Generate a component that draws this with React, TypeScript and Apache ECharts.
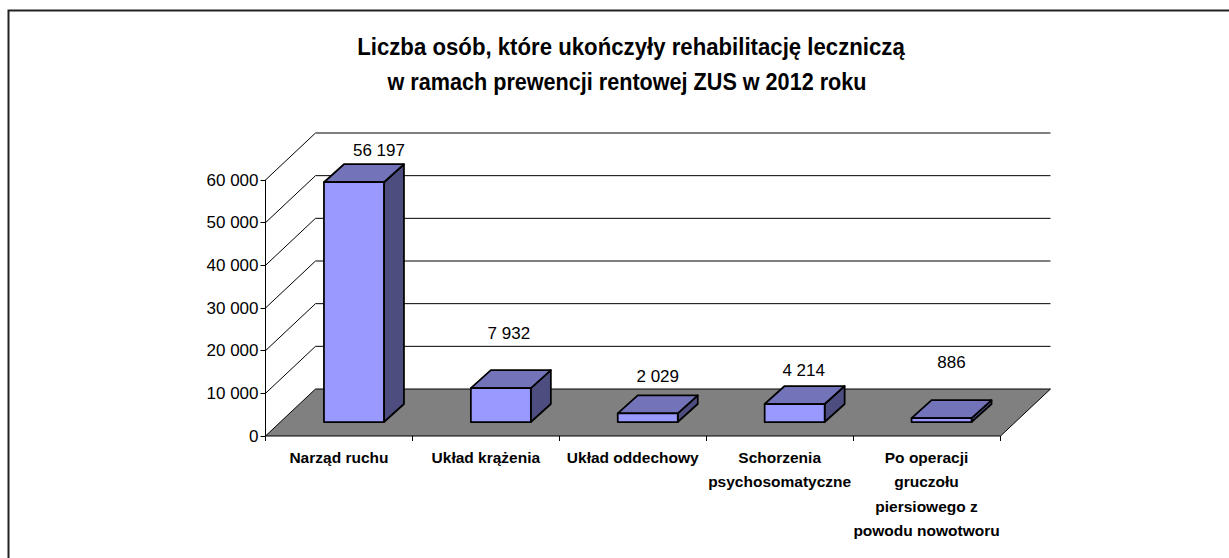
import React, { useEffect, useRef } from "react";
import * as echarts from "echarts";

const titleLines = [
  "Liczba osób, które ukończyły rehabilitację leczniczą",
  "w ramach prewencji rentowej ZUS w 2012 roku",
];
const categories = [
  "Narząd ruchu",
  "Układ krążenia",
  "Układ oddechowy",
  "Schorzenia\npsychosomatyczne",
  "Po operacji\ngruczołu\npiersiowego z\npowodu nowotworu",
];
const values = [56197, 7932, 2029, 4214, 886];
const valueLabels = ["56 197", "7 932", "2 029", "4 214", "886"];
const ticks = [0, 10000, 20000, 30000, 40000, 50000, 60000];

const labelShiftX = [25, 8, 10, 9, 10];
const labelShiftY = [-14, -37, -19, -16, -38];
const titleX = [631, 627];
const titleY = [46.5, 82];
const titleScale = [0.925, 0.9];
const depthX = 50;
const depthY = 47;
const barDepthX = 20;
const barDepthY = 18;
const barFrontX = 15;
const barFrontY = 14;
const barWidth = 60;

const fmt = (v: number) =>
  v === 0 ? "0" : String(v).replace(/(\d)(?=(\d{3})+$)/g, "$1 ");

const lineStyle = { stroke: "#000", lineWidth: 1, fill: "none" };

export default function App() {
  const ref = useRef<HTMLDivElement>(null);
  useEffect(() => {
    const chart = echarts.init(ref.current!, undefined, { renderer: "svg" });
    chart.setOption({
      animation: false,
      backgroundColor: "#fff",
      graphic: [
        {
          type: "rect",
          shape: { x: 8.5, y: 10.5, width: 1400, height: 700 },
          style: { fill: "none", stroke: "#222", lineWidth: 2 },
          silent: true,
        },
        ...titleLines.map((t, i) => ({
          type: "text",
          x: titleX[i],
          y: titleY[i],
          scaleX: titleScale[i],
          style: {
            text: t,
            fill: "#000",
            font: "bold 24px 'Liberation Sans'",
            align: "center",
            verticalAlign: "middle",
          },
        })),
      ],
      grid: { left: 265.5, right: 229, top: 180, bottom: 122 },
      xAxis: {
        type: "category",
        data: categories,
        boundaryGap: true,
        axisLine: { show: false },
        axisTick: { show: true, length: 5, lineStyle: { color: "#000" }, alignWithLabel: false },
        axisLabel: {
          interval: 0,
          margin: 9,
          color: "#000",
          fontFamily: "Liberation Sans",
          fontWeight: "bold",
          fontSize: 15.5,
          lineHeight: 24.5,
          align: "center",
        },
        z: 1,
      },
      yAxis: {
        type: "value",
        min: 0,
        max: 60000,
        interval: 10000,
        splitLine: { show: false },
        axisLine: { show: true, lineStyle: { color: "#000" } },
        axisTick: { show: true, length: 5, lineStyle: { color: "#000" } },
        axisLabel: {
          color: "#000",
          margin: 7,
          fontFamily: "Liberation Sans",
          fontSize: 17,
          formatter: (v: number) => fmt(v),
        },
      },
      series: [
        {
          type: "custom",
          coordinateSystem: "cartesian2d",
          data: ticks,
          encode: { x: -1, y: 0 },
          z: 1,
          silent: true,
          renderItem: (_p: any, api: any) => {
            const v = api.value(0);
            const [, y] = api.coord([0, v]);
            const x0 = 265.5;
            const x1 = 1000.5;
            const children: any[] = [];
            if (v === 0) {
              children.push({
                type: "polygon",
                shape: { points: [[x0, y], [x0 + depthX, y - depthY], [x1 + depthX, y - depthY], [x1, y]] },
                style: { fill: "#808080", stroke: "#000", lineWidth: 1 },
              });
            } else {
              children.push({
                type: "polyline",
                shape: { points: [[x0, y], [x0 + depthX, y - depthY], [x1 + depthX, y - depthY]] },
                style: lineStyle,
              });
            }
            return { type: "group", children };
          },
        },
        {
          type: "custom",
          coordinateSystem: "cartesian2d",
          data: values.map((v, i) => [i, v]),
          encode: { x: 0, y: 1 },
          z: 3,
          silent: true,
          renderItem: (params: any, api: any) => {
            const i = params.dataIndex;
            const [cx, top] = api.coord([api.value(0), api.value(1)]);
            const [, base] = api.coord([api.value(0), 0]);
            const l = cx - barWidth / 2 + barFrontX;
            const r = l + barWidth;
            const t = top - barFrontY;
            const b = base - barFrontY;
            const edge = { stroke: "#000", lineWidth: 1.75, lineJoin: "round" };
            return {
              type: "group",
              children: [
                {
                  type: "polygon",
                  shape: { points: [[r, t], [r + barDepthX, t - barDepthY], [r + barDepthX, b - barDepthY], [r, b]] },
                  style: { fill: "#4d4d80", ...edge },
                },
                {
                  type: "polygon",
                  shape: { points: [[l, t], [l + barDepthX, t - barDepthY], [r + barDepthX, t - barDepthY], [r, t]] },
                  style: { fill: "#7373b9", ...edge },
                },
                {
                  type: "rect",
                  shape: { x: l, y: t, width: barWidth, height: b - t },
                  style: { fill: "#9999ff", ...edge },
                },
                {
                  type: "text",
                  x: cx + barFrontX + labelShiftX[i],
                  y: t - barDepthY + labelShiftY[i],
                  style: {
                    text: valueLabels[i],
                    fill: "#000",
                    font: "17px 'Liberation Sans'",
                    align: "center",
                    verticalAlign: "middle",
                  },
                },
              ],
            };
          },
        },
      ],
    });
    return () => chart.dispose();
  }, []);
  return <div ref={ref} style={{ position: "absolute", left: 0, top: 0, width: 1229, height: 558 }} />;
}
